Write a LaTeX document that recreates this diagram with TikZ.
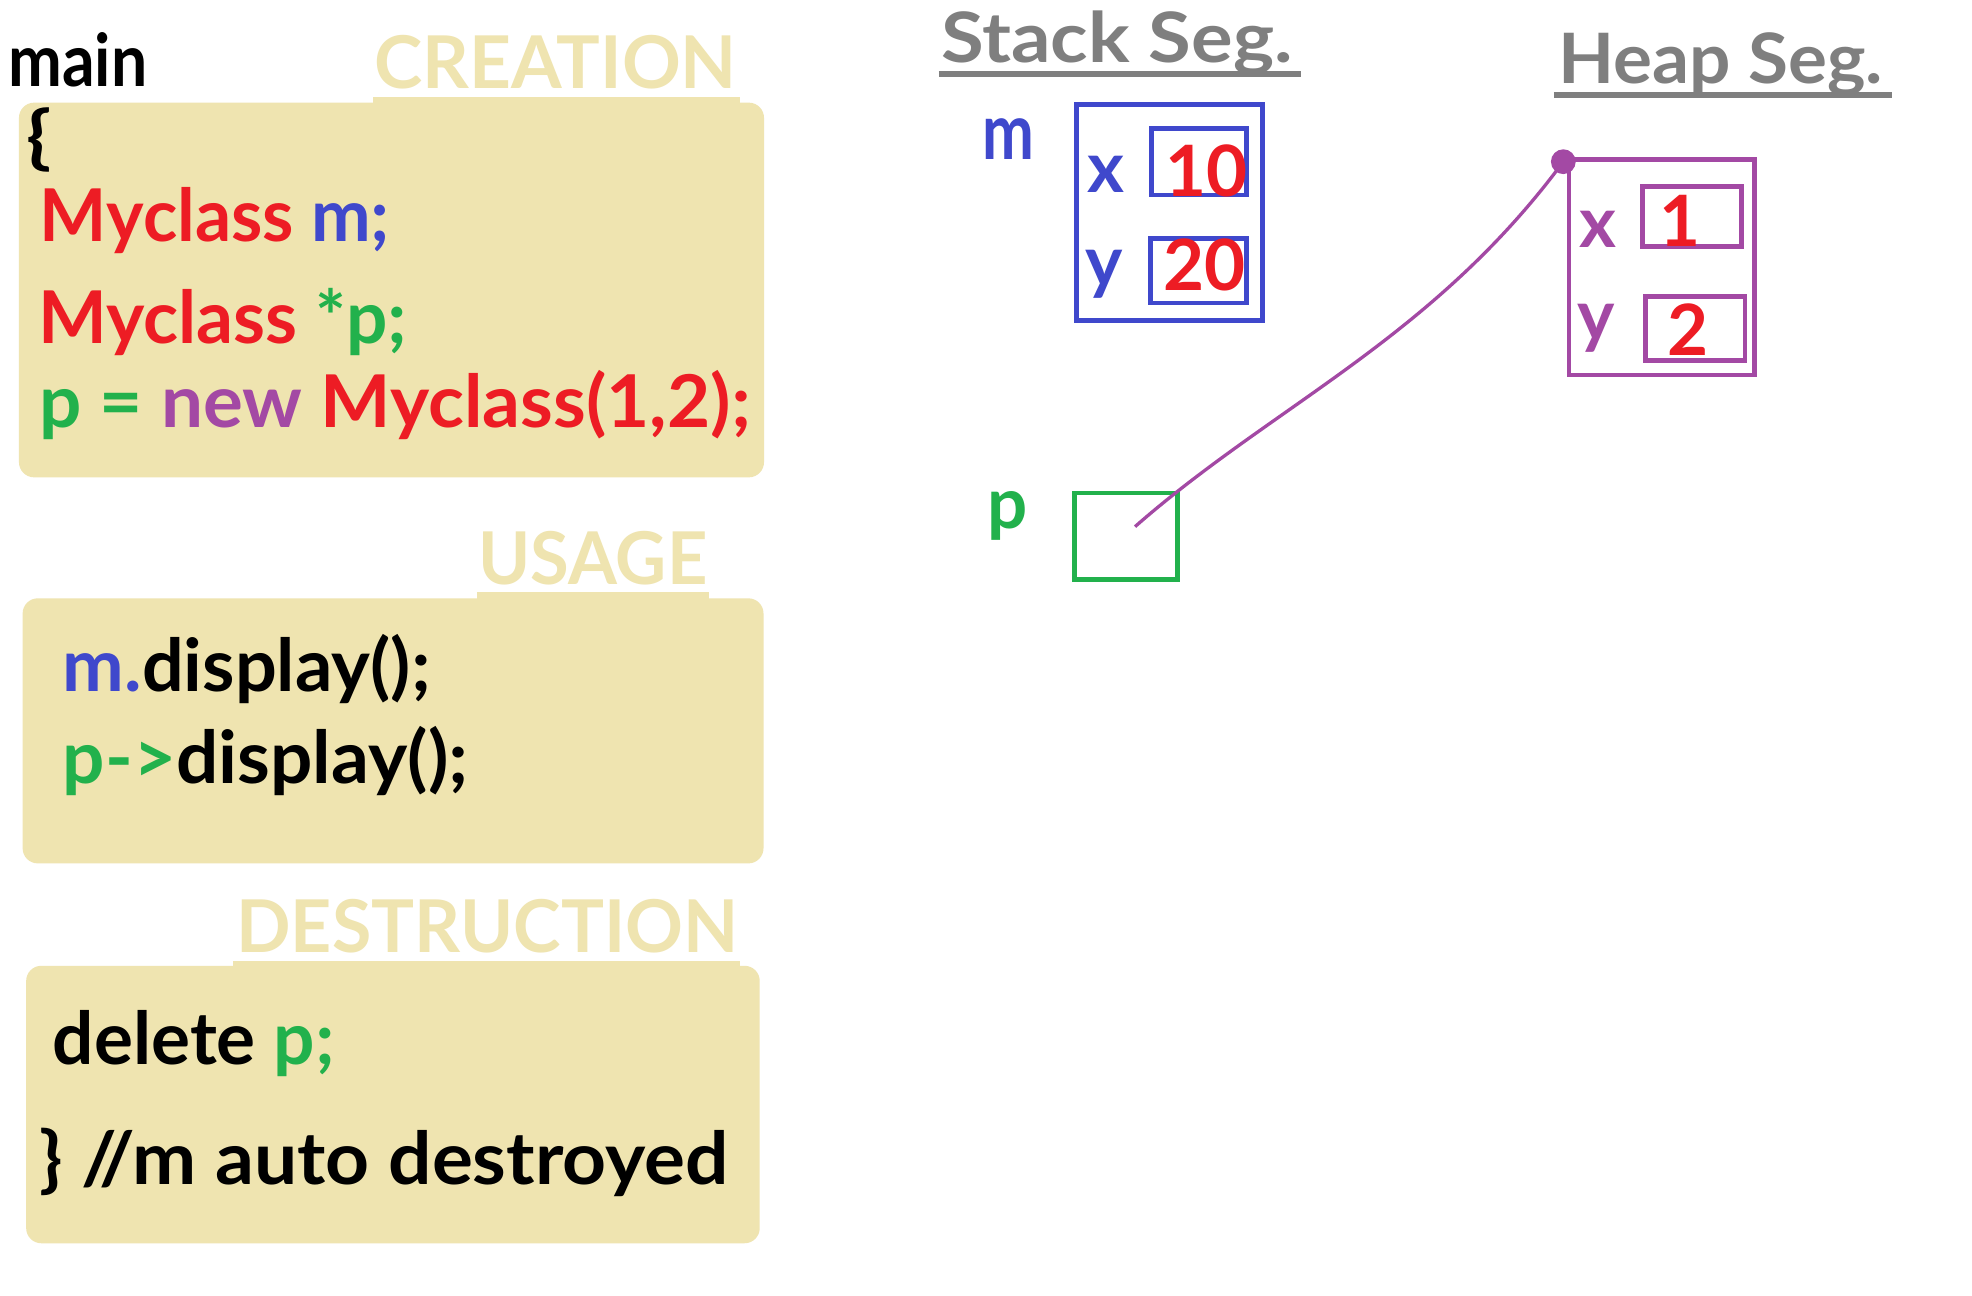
\documentclass[tikz,border=0pt]{standalone}
\usepackage{fontspec}
\setmainfont{Lato}
\usepackage{graphicx}
\newlength\uu
\setlength\uu{0.5pt}
\newcommand\fw[2]{\resizebox{#1\uu}{\height}{#2}}
\newcommand\fsz[1]{\fontsize{#1}{#1}\selectfont\bfseries}
\definecolor{cred}{HTML}{ED1C24}
\definecolor{cblue}{HTML}{3F48CC}
\definecolor{cgreen}{HTML}{22B14C}
\definecolor{cpurple}{HTML}{A349A4}
\definecolor{cbeige}{HTML}{EFE4B0}
\definecolor{cgray}{HTML}{7F7F7F}
\begin{document}
\begin{tikzpicture}[x=0.5pt,y=-0.5pt,
  txt/.style={inner sep=0pt, outer sep=0pt, anchor=base west, font=\fsz{28.8}},
  panel/.style={fill=cbeige, rounded corners=6pt},
  tabstrip/.style={fill=cbeige},
  seg/.style={txt, text=cgray, font=\fsz{27.5}},
  segline/.style={draw=cgray, line width=2.5pt},
  cell/.style={line width=1.8pt},
  lbl/.style={inner sep=0pt, outer sep=0pt, anchor=base, font=\fsz{28}},
  digit/.style={lbl, text=cred, font=\fsz{28}},
  ptr/.style={draw=cpurple, line width=1.3pt}]
\useasboundingbox (0,0) rectangle (1560,1025);
\fill[white] (0,0) rectangle (1560,1025);

% ---- panels ----
\fill[panel] (15,81.2) rectangle (604.4,377.6);
\fill[tabstrip] (295,77) rectangle (585,85);
\fill[panel] (17.9,473.3) rectangle (604,683);
\fill[tabstrip] (377,468) rectangle (560.5,476);
\fill[panel] (20.7,764) rectangle (601,983.5);
\fill[tabstrip] (184,760) rectangle (585,767);

% ---- left texts ----
\node[txt] (main) at (6.6,68.6) {\fw{110}{main}};
\node[txt, text=cbeige] (hcreate) at (296,70) {\fw{287}{CREATION}};
\node[txt, anchor=north west] (lbrace) at (21,85) {\resizebox*{20\uu}{51\uu}{\{}};
\node[txt] (l1) at (31.6,191.2) {\fw{277}{\textcolor{cred}{Myclass} \textcolor{cblue}{m;}}};
\node[txt] (l2) at (30.3,271.6) {\fw{292}{\textcolor{cred}{Myclass} \textcolor{cgreen}{*p;}}};
\node[txt] (l3) at (31.1,338.5) {\fw{563}{\textcolor{cgreen}{p =} \textcolor{cpurple}{new} \textcolor{cred}{Myclass(1,2);}}};

\node[txt, text=cbeige] (huse) at (378.6,462) {\fw{181}{USAGE}};
\node[txt] (u1) at (49.75,547) {\fw{291}{\textcolor{cblue}{m.}display();}};
\node[txt] (u2) at (49.75,619.6) {\fw{321}{\textcolor{cgreen}{p->}display();}};

\node[txt, text=cbeige] (hdest) at (187,753.6) {\fw{397}{DESTRUCTION}};
\node[txt] (d1) at (41.8,842) {\fw{223}{delete \textcolor{cgreen}{p;}}};
\node[txt] (d2) at (31,937) {\fw{545.5}{\} //m auto destroyed}};

% ---- segment titles ----
\node[seg] (stack) at (744.5,49.6) {\fw{278}{Stack Seg.}};
\draw[segline] (742.8,58.5) -- (1029,58.5);
\node[seg] (heap) at (1232.7,65.9) {\fw{257}{Heap Seg.}};
\draw[segline] (1229.3,75.2) -- (1496.4,75.2);

% ---- stack object m ----
\node[lbl, text=cblue, font=\fsz{31}] (mlab) at (798,126) {\fw{41}{m}};
\draw[cell, draw=cblue] (851.7,82.8) rectangle (998.8,253.4);
\draw[cell, draw=cblue] (910.8,101.5) rectangle (985.9,154.3);
\draw[cell, draw=cblue] (910.2,188.5) rectangle (985.9,239.7);
\node[lbl, text=cblue] (mx) at (875.1,152.4) {x};
\node[lbl, text=cblue] (my) at (873.7,226.5) {y};
\node[digit] (mxv) at (954.3,155.6) {10};
\node[digit] (myv) at (953,229.4) {20};

% ---- pointer p ----
\node[lbl, text=cgreen] (plab) at (797,418) {p};
\draw[cell, draw=cgreen] (850.2,390) rectangle (931.4,458.6);

% ---- heap object ----
\draw[cell, draw=cpurple] (1241.2,126.3) rectangle (1387.8,296.7);
\draw[cell, draw=cpurple] (1299.2,147.4) rectangle (1377.8,194.9);
\draw[cell, draw=cpurple] (1301.9,234.4) rectangle (1380.4,285.1);
\node[lbl, text=cpurple] (hx) at (1264.3,196) {x};
\node[lbl, text=cpurple] (hy) at (1262.6,269) {y};
\node[digit] (hxv) at (1329.4,195) {1};
\node[digit] (hyv) at (1335.2,281.6) {2};

% ---- pointer curve ----
\coordinate (pstart) at (897.9,416.6);
\node[circle, fill=cpurple, inner sep=0pt, minimum size=9.8pt] (hdot) at (1236.7,127.9) {};
\draw[ptr] (pstart) .. controls (1008,320) and (1133,268) .. (hdot.center);
\end{tikzpicture}
\end{document}
